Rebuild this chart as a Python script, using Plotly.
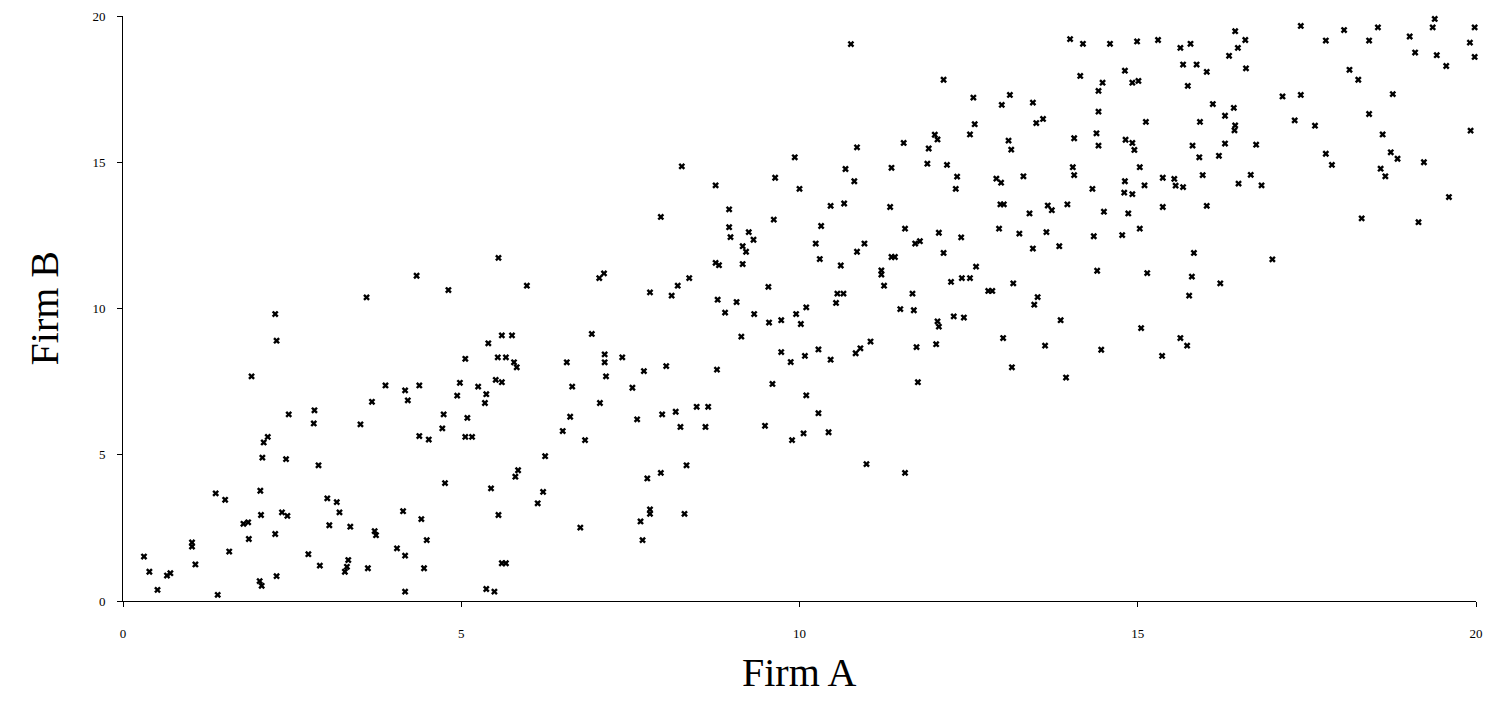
import plotly.graph_objects as go

# Firm A (x) and Firm B (y) values
firm_a = [
    2.25, 2.27, 1.90, 2.45, 2.83, 2.82, 2.14, 2.08, 2.06, 2.41, 2.89, 1.37, 1.51, 2.03, 2.04,
    1.78, 1.85, 1.86, 2.25, 2.35, 2.43, 3.02, 3.16, 3.20, 3.05, 3.36, 1.02, 1.02, 1.07, 0.31,
    0.39, 0.51, 0.65, 0.70, 1.40, 1.57, 2.02, 2.05, 2.27, 2.74, 2.91, 3.33, 3.31, 3.28,
    5.60, 5.75, 5.40, 5.06, 5.54, 5.66, 5.78, 5.82, 6.56, 6.64, 3.88, 4.17, 4.38, 3.68, 4.21,
    4.98, 4.94, 5.25, 5.37, 5.35, 5.51, 5.60, 4.74, 5.09, 4.72, 3.51, 4.38, 4.52, 5.06, 5.16,
    6.50, 6.61, 6.24, 5.84, 5.80, 4.76, 5.44, 6.21, 6.13, 5.55, 4.14, 4.41, 3.72, 3.74, 4.49,
    4.05, 4.17, 3.62, 4.45, 5.60, 5.66, 4.17, 5.37, 5.49,
    8.90, 9.33, 9.55, 9.73, 9.95, 6.93, 7.12, 7.12, 7.38, 7.14, 7.70, 8.03, 8.78, 9.14, 9.73,
    9.87, 9.60, 7.53, 7.05, 7.60, 7.97, 8.17, 8.48, 8.65, 8.24, 8.61, 9.49, 9.89, 6.83, 8.33,
    7.75, 7.95, 7.79, 7.79, 8.30, 7.65, 6.76, 7.68,
    10.10, 10.02, 11.49, 11.69, 12.04, 12.06, 12.28, 12.43, 13.01, 13.14, 10.08, 10.28, 10.46,
    10.83, 10.90, 11.05, 11.73, 12.02, 11.75, 10.10, 10.28, 10.06, 10.43, 10.99, 11.56,
    13.47, 13.86, 15.05, 15.63, 15.73, 13.63, 14.46, 15.36, 13.94,
    5.55, 4.34, 4.81, 5.97, 3.60,
    9.93, 8.26, 8.76, 9.64, 8.96, 7.95, 9.62, 8.96, 8.98, 9.25, 9.32, 9.16, 9.21, 8.76, 8.81,
    9.16, 7.04, 7.11, 8.37, 8.20, 7.79, 8.11, 9.54, 8.79, 9.07,
    10.76, 12.13, 12.57, 13.11, 12.99, 12.59, 12.52, 12.00, 12.04, 13.09, 13.13, 10.85, 11.54,
    11.91, 10.68, 11.36, 11.89, 12.18, 12.33, 12.31, 12.91, 12.98, 13.31, 10.81, 10.00, 10.46,
    10.66, 11.34, 12.97, 13.02, 10.32, 11.56, 12.06, 12.39, 12.95, 13.25, 10.24, 10.96, 10.85,
    11.71, 11.78, 10.30, 10.61, 11.36, 11.41, 12.13, 11.21, 11.21, 12.61, 11.25, 12.24, 12.40,
    12.52, 13.16, 12.79, 12.85, 10.56, 10.65, 11.67, 10.54,
    16.44, 16.59, 16.48, 16.35, 16.60, 14.00, 14.19, 14.59, 14.99, 15.30, 15.63, 15.78, 15.67,
    15.87, 16.02, 15.74, 14.81, 14.15, 14.48, 14.92, 15.01, 14.42, 13.45, 14.42, 13.50, 13.60,
    15.12, 16.11, 16.42, 16.29, 15.92, 16.44, 16.43, 14.06, 14.39, 14.42, 14.82, 14.92, 14.95,
    15.81, 15.91, 16.20, 16.29, 14.04, 14.06, 15.03, 14.33, 14.81, 14.80, 14.92, 15.10, 15.37,
    15.54, 15.56, 15.67, 15.96, 16.49, 13.67, 13.73, 13.40, 13.96, 14.50, 14.86, 15.37, 16.02,
    13.65, 14.35, 14.77, 15.03, 13.45, 13.84, 15.83, 14.40, 15.14, 15.80, 16.22, 15.76, 13.52,
    19.39, 19.36, 19.98, 17.41, 18.05, 18.55, 19.02, 17.78, 18.42, 19.91, 19.10, 19.42, 19.98,
    19.56, 18.13, 18.26, 18.77, 17.14, 17.41, 18.42, 17.32, 17.62, 19.92, 16.75, 18.62, 17.78,
    17.87, 18.74, 18.84, 19.23, 18.59, 18.66, 16.67, 16.83, 19.60, 18.31, 19.15, 16.99,
]

firm_b = [
    9.81, 8.90, 7.68, 6.38, 6.52, 6.07, 5.61, 5.42, 4.90, 4.85, 4.64, 3.68, 3.46, 3.77, 2.94,
    2.64, 2.69, 2.12, 2.29, 3.03, 2.91, 3.51, 3.38, 3.03, 2.59, 2.54, 2.00, 1.86, 1.25, 1.52,
    1.00, 0.38, 0.87, 0.95, 0.21, 1.69, 0.68, 0.52, 0.85, 1.60, 1.21, 1.40, 1.17, 1.00,
    9.08, 9.08, 8.81, 8.28, 8.33, 8.33, 8.16, 7.99, 8.16, 7.33, 7.37, 7.20, 7.37, 6.81, 6.86,
    7.46, 7.02, 7.33, 7.07, 6.77, 7.56, 7.48, 6.38, 6.26, 5.90, 6.04, 5.64, 5.52, 5.61, 5.61,
    5.81, 6.30, 4.95, 4.47, 4.25, 4.03, 3.85, 3.73, 3.34, 2.94, 3.07, 2.80, 2.39, 2.25, 2.08,
    1.80, 1.55, 1.12, 1.12, 1.29, 1.29, 0.32, 0.41, 0.32,
    9.86, 9.81, 9.52, 9.60, 9.81, 9.13, 8.43, 8.16, 8.33, 7.68, 7.86, 8.03, 7.91, 9.04, 8.51,
    8.17, 7.42, 7.29, 6.77, 6.21, 6.38, 6.47, 6.64, 6.64, 5.95, 5.95, 5.99, 5.50, 5.50, 4.64,
    4.19, 4.38, 3.13, 2.98, 2.98, 2.72, 2.51, 2.08,
    10.04, 9.47, 9.98, 9.94, 9.56, 9.38, 9.73, 9.69, 8.99, 7.99, 8.38, 8.60, 8.25,
    8.47, 8.64, 8.87, 8.68, 8.78, 7.48, 7.03, 6.42, 5.73, 5.77, 4.68, 4.38,
    10.13, 9.60, 9.33, 8.99, 8.73, 8.73, 8.59, 8.38, 7.64,
    11.73, 11.12, 10.63, 10.78, 10.38,
    15.17, 14.86, 14.21, 14.47, 13.39, 13.13, 13.04, 12.78, 12.44, 12.61, 12.35, 12.13, 11.94,
    11.56, 11.48, 11.52, 11.04, 11.20, 11.04, 10.78, 10.55, 10.44, 10.74, 10.30, 10.22,
    19.04, 17.82, 17.21, 17.30, 16.96, 16.30, 15.95, 15.94, 15.78, 15.74, 15.43, 15.51, 15.66,
    15.47, 14.77, 14.81, 14.95, 14.91, 14.51, 14.09, 14.44, 14.30, 14.52, 14.35, 14.09, 13.51,
    13.59, 13.47, 13.56, 13.56, 12.82, 12.73, 12.59, 12.43, 12.73, 12.56, 12.22, 12.22, 11.94,
    12.22, 12.30, 11.69, 11.47, 11.76, 11.76, 11.90, 11.30, 11.16, 11.43, 10.78, 10.91, 11.04,
    11.04, 10.86, 10.60, 10.60, 10.51, 10.51, 10.51, 10.19,
    19.48, 19.18, 18.91, 18.64, 18.21, 19.21, 19.05, 19.05, 19.13, 19.18, 18.91, 19.05, 18.34,
    18.34, 18.09, 17.61, 18.13, 17.95, 17.72, 17.72, 17.78, 17.44, 17.04, 16.73, 16.34, 16.48,
    16.38, 16.99, 16.86, 16.59, 16.38, 16.26, 16.09, 15.82, 15.99, 15.57, 15.77, 15.66, 15.42,
    15.57, 15.17, 15.22, 15.64, 14.83, 14.56, 14.83, 14.09, 14.35, 13.96, 13.91, 14.21, 14.47,
    14.43, 14.20, 14.15, 14.56, 14.27, 13.52, 13.36, 13.25, 13.56, 13.31, 13.25, 13.47, 13.51,
    12.61, 12.47, 12.51, 12.73, 12.05, 12.13, 11.90, 11.29, 11.21, 11.09, 10.86, 10.44, 10.39,
    19.90, 19.61, 19.61, 19.66, 19.52, 19.61, 19.30, 19.16, 19.16, 19.09, 18.75, 18.66, 18.60,
    18.29, 18.16, 17.82, 17.33, 17.25, 17.30, 16.65, 16.43, 16.25, 16.08, 15.60, 15.95, 15.29,
    14.91, 15.34, 15.12, 15.00, 14.78, 14.52, 14.57, 14.21, 13.81, 13.08, 12.95, 11.68,
]

tick_vals = [0, 5, 10, 15, 20]
tick_text = ["0", "5", "10", "15", "20"]

serif = "Liberation Serif, DejaVu Serif, serif"

fig = go.Figure()
fig.add_trace(go.Scatter(
    x=firm_a, y=firm_b, mode="markers",
    marker=dict(symbol="x", size=6, color="black", line=dict(width=0)),
    cliponaxis=False, showlegend=False,
))

fig.update_layout(
    width=1479, height=705,
    margin=dict(l=115, r=11, t=8, b=112),
    paper_bgcolor="white", plot_bgcolor="white",
    xaxis=dict(range=[0, 20], tickvals=tick_vals, ticktext=tick_text, automargin=False,
               showgrid=False, zeroline=False, showline=True, linecolor="black", linewidth=1,
               ticks="outside", ticklen=5, tickcolor="black",
               tickfont=dict(family=serif, size=13, color="black"),
               ticklabelstandoff=15),
    yaxis=dict(range=[0, 20], tickvals=tick_vals, ticktext=tick_text, automargin=False,
               showgrid=False, zeroline=False, showline=True, linecolor="black", linewidth=1,
               ticks="outside", ticklen=5, tickcolor="black",
               tickfont=dict(family=serif, size=13, color="black"),
               ticklabelstandoff=9),
    annotations=[
        dict(text="Firm A", xref="paper", yref="paper", x=0.5, y=-0.1214,
             xanchor="center", yanchor="middle", showarrow=False,
             font=dict(family=serif, size=40, color="black")),
        dict(text="Firm B", xref="paper", yref="paper", x=-0.0577, y=0.5,
             xanchor="center", yanchor="middle", textangle=-90, showarrow=False,
             font=dict(family=serif, size=40, color="black")),
    ],
)

fig.write_html("out.html")
